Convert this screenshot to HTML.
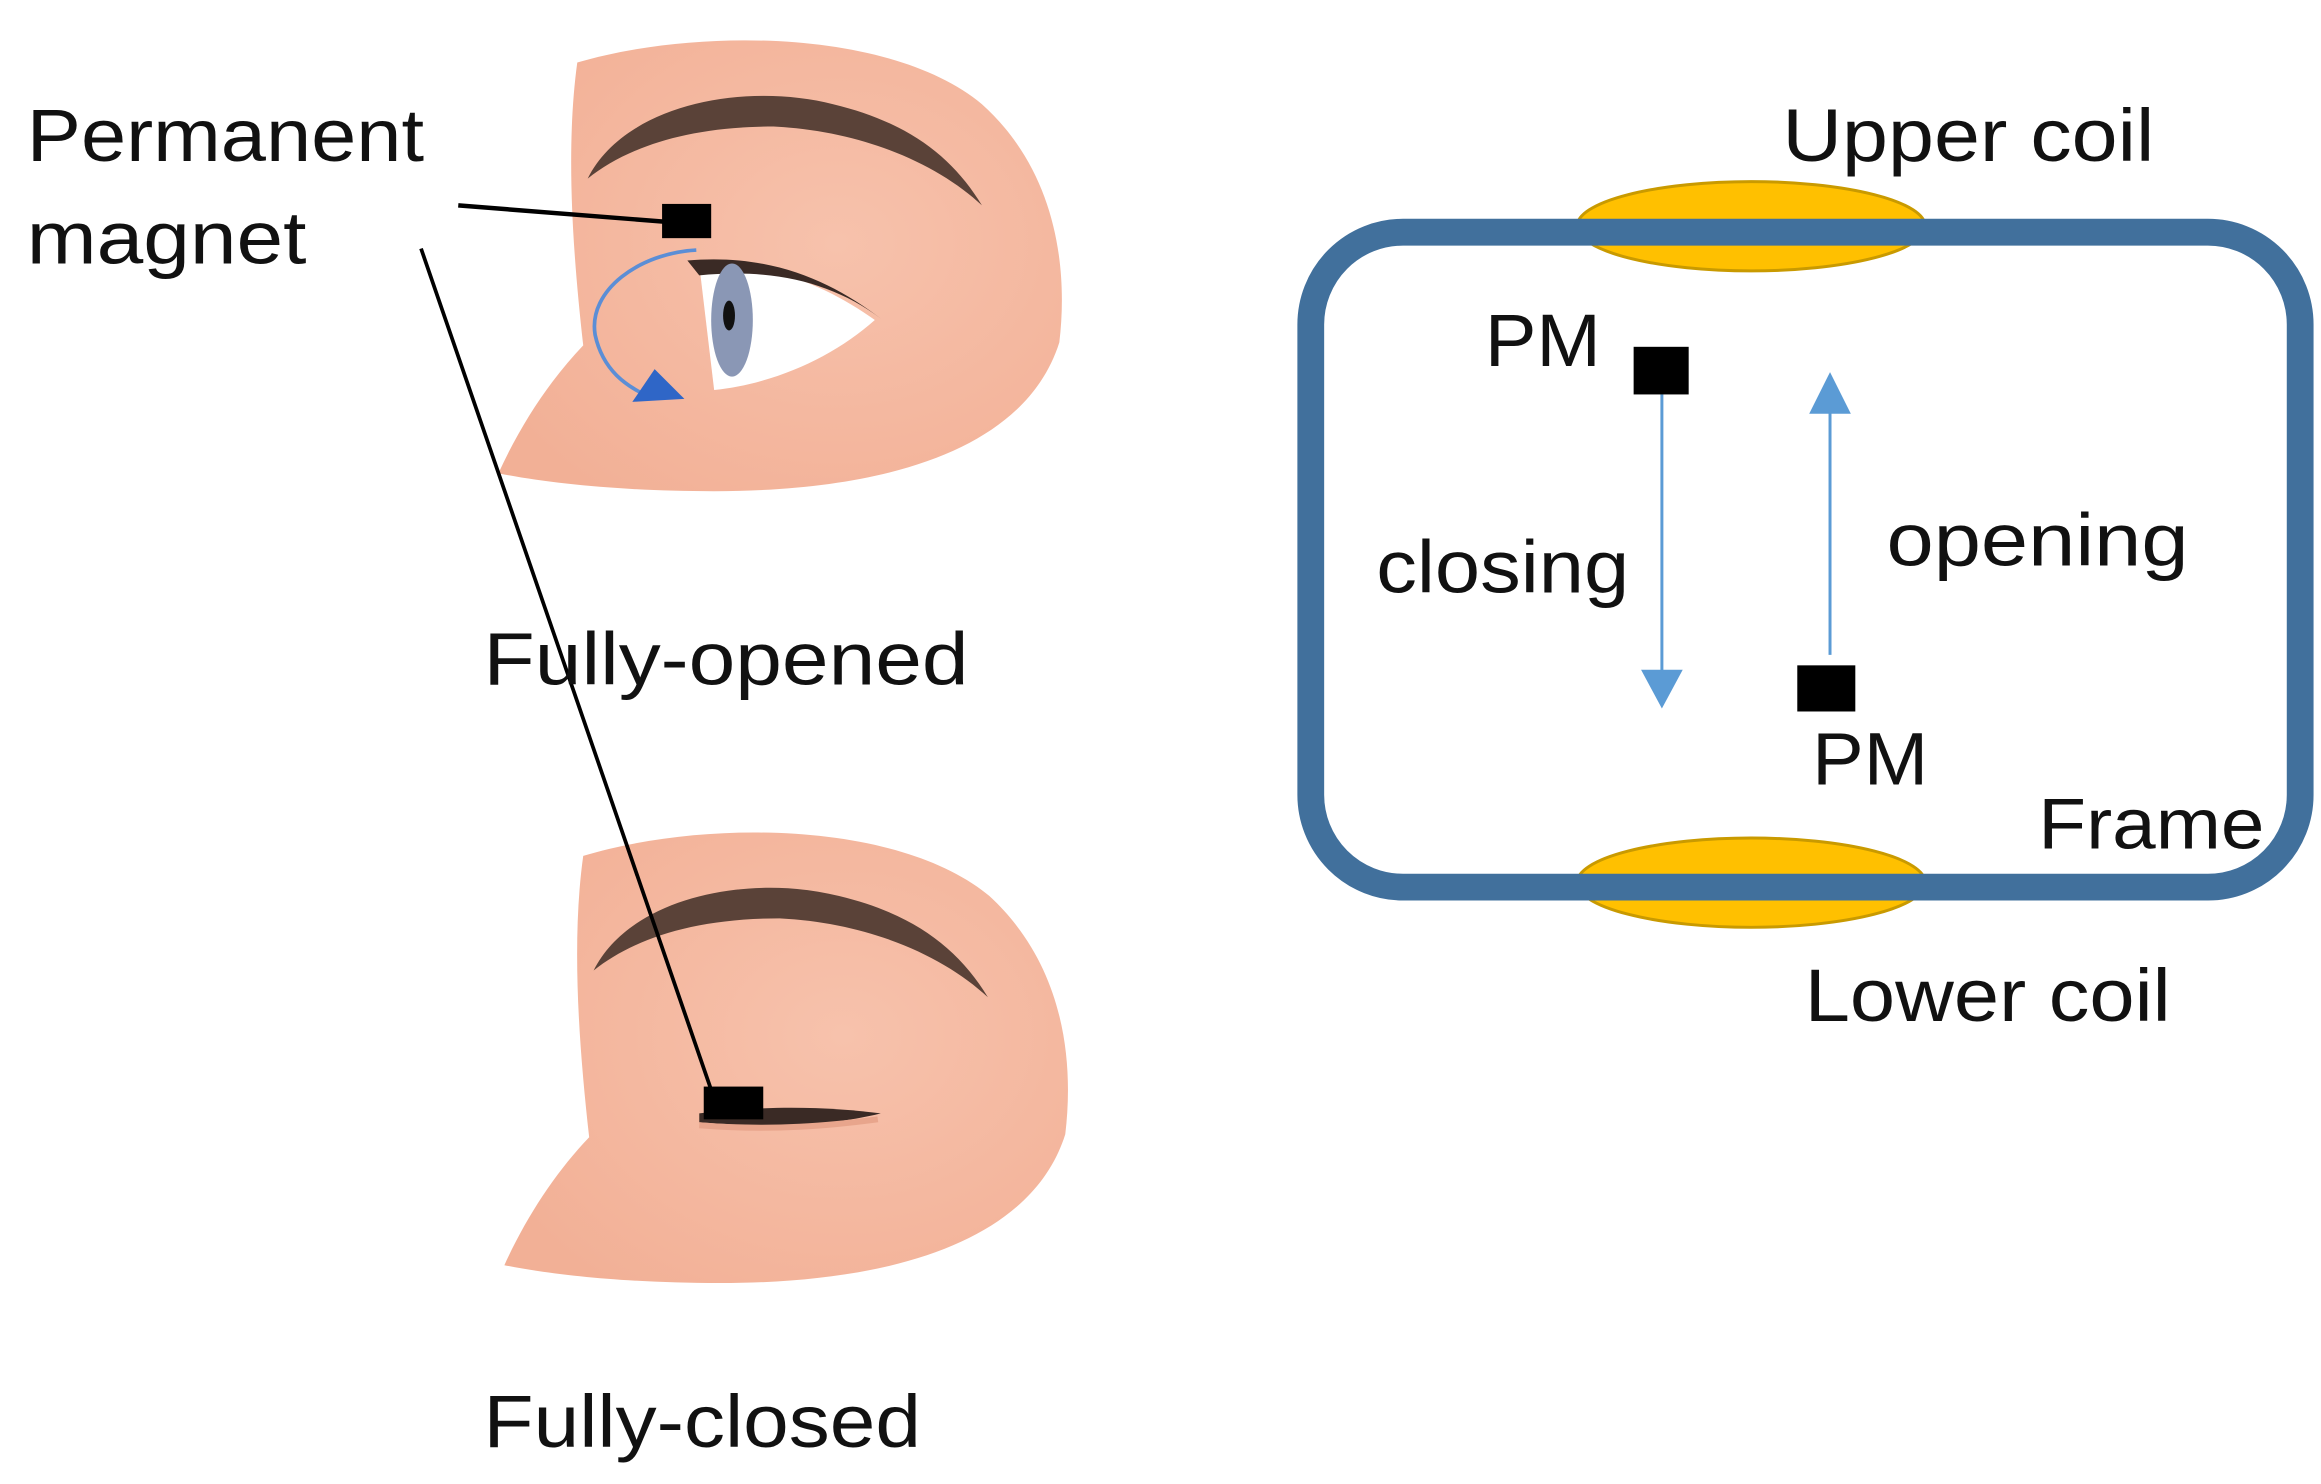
<!DOCTYPE html>
<html><head><meta charset="utf-8"><style>
html,body{margin:0;padding:0;background:#fff;}
svg{display:block;}
text{font-family:"Liberation Sans","DejaVu Sans",sans-serif;fill:#111;}
</style></head><body>
<svg width="2321" height="1484" viewBox="0 0 1560 997" preserveAspectRatio="none" xmlns="http://www.w3.org/2000/svg">
<defs>
<radialGradient id="sk" cx="0.6" cy="0.45" r="0.7">
<stop offset="0" stop-color="#F7C2AC"/><stop offset="1" stop-color="#F2B096"/>
</radialGradient>
</defs>
<!-- Eye 1 (opened) -->
<path d="M388,42 C470,18 600,20 660,70 C710,115 718,180 712,230 C690,300 600,330 480,330 C420,330 370,325 335,318 C350,285 370,255 392,232 C385,170 380,100 388,42 Z" fill="url(#sk)"/>
<path d="M395,120 C420,70 500,55 560,70 C610,82 640,105 660,138 C630,110 580,88 520,85 C460,85 420,100 395,120 Z" fill="#5a4238"/>
<path d="M470,178 C520,175 560,195 588,215 C560,240 520,258 480,262 Z" fill="#fff"/>
<path d="M462,175 C520,170 560,190 592,214 C560,190 520,180 470,185 Z" fill="#3a2a25"/>
<ellipse cx="492" cy="215" rx="14" ry="38" fill="#8a97b5"/>
<ellipse cx="490" cy="212" rx="4" ry="10" fill="#111"/>
<path d="M468,168 C430,170 395,195 400,225 C405,248 420,260 440,268" fill="none" stroke="#5b8ed6" stroke-width="2.5"/>
<polygon points="425,270 460,268 440,248" fill="#2f66c7"/>
<!-- Eye 2 (closed) -->
<path d="M392,575 C475,550 605,552 665,602 C715,648 722,712 716,762 C694,832 604,862 484,862 C424,862 374,857 339,850 C354,817 374,787 396,764 C389,702 384,632 392,575 Z" fill="url(#sk)"/>
<path d="M399,652 C424,602 504,587 564,602 C614,614 644,637 664,670 C634,642 584,620 524,617 C464,617 424,632 399,652 Z" fill="#5a4238"/>
<path d="M470,748 C520,742 560,744 592,748 C560,756 520,758 470,754 Z" fill="#3a2a25"/>
<path d="M470,756 C520,760 560,756 590,752" fill="none" stroke="#e8a58c" stroke-width="4"/>
<!-- connector lines and magnets -->
<line x1="308" y1="138" x2="460" y2="150" stroke="#000" stroke-width="3"/>
<rect x="445" y="137" width="33" height="23" fill="#000"/>
<line x1="283" y1="167" x2="480" y2="738" stroke="#000" stroke-width="2.5"/>
<rect x="473" y="730" width="40" height="22" fill="#000"/>
<text x="18" y="108" font-size="50" textLength="267" lengthAdjust="spacingAndGlyphs">Permanent</text>
<text x="18" y="177" font-size="50" textLength="188" lengthAdjust="spacingAndGlyphs">magnet</text>
<text x="325" y="460" font-size="50" textLength="326" lengthAdjust="spacingAndGlyphs">Fully-opened</text>
<text x="325" y="972" font-size="50" textLength="294" lengthAdjust="spacingAndGlyphs">Fully-closed</text>
<!-- Right diagram -->
<ellipse cx="1177" cy="152" rx="117" ry="30" fill="#FFC000" stroke="#C99A00" stroke-width="2"/>
<ellipse cx="1177" cy="593" rx="117" ry="30" fill="#FFC000" stroke="#C99A00" stroke-width="2"/>
<rect x="881" y="156" width="665" height="440" rx="62" ry="62" fill="none" stroke="#41709C" stroke-width="18"/>
<rect x="1098" y="233" width="37" height="32" fill="#000"/>
<rect x="1208" y="447" width="39" height="31" fill="#000"/>
<line x1="1117" y1="265" x2="1117" y2="455" stroke="#5B9BD5" stroke-width="2"/>
<polygon points="1103,450 1131,450 1117,476" fill="#5B9BD5"/>
<line x1="1230" y1="440" x2="1230" y2="272" stroke="#5B9BD5" stroke-width="2"/>
<polygon points="1216,278 1244,278 1230,250" fill="#5B9BD5"/>
<text x="1198" y="108" font-size="50" textLength="250" lengthAdjust="spacingAndGlyphs">Upper coil</text>
<text x="1213" y="686" font-size="50" textLength="246" lengthAdjust="spacingAndGlyphs">Lower coil</text>
<text x="998" y="246" font-size="50" textLength="78" lengthAdjust="spacingAndGlyphs">PM</text>
<text x="1218" y="527" font-size="50" textLength="78" lengthAdjust="spacingAndGlyphs">PM</text>
<text x="925" y="398" font-size="50" textLength="170" lengthAdjust="spacingAndGlyphs">closing</text>
<text x="1268" y="380" font-size="50" textLength="203" lengthAdjust="spacingAndGlyphs">opening</text>
<text x="1370" y="570" font-size="48" textLength="152" lengthAdjust="spacingAndGlyphs">Frame</text>
</svg>
</body></html>
